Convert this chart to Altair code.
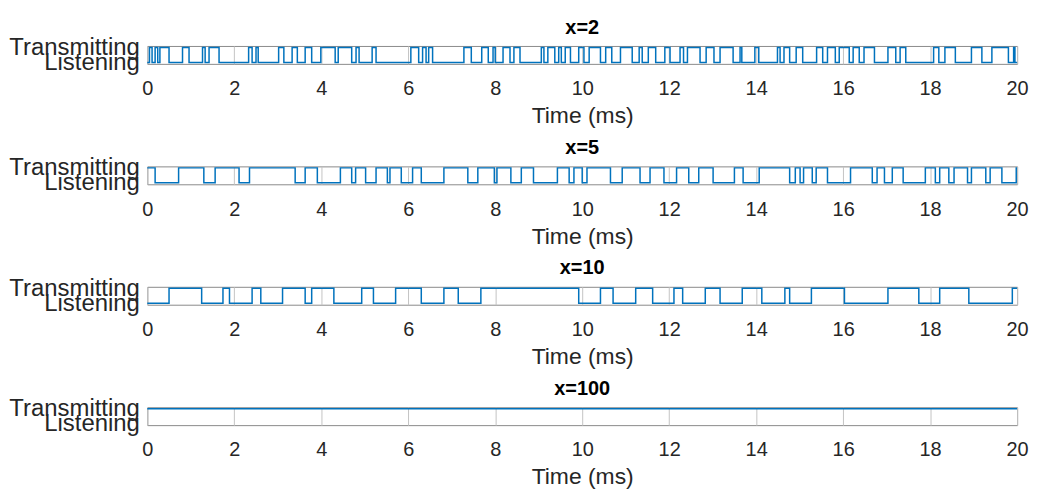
import altair as alt
import pandas as pd

T_END = 20
panel_titles = ["x=2", "x=5", "x=10", "x=100"]
initial_states = [0, 1, 0, 1]  # 0 = Listening, 1 = Transmitting

# transition times (ms) for each panel; state toggles at each time
trans_x2 = [0.05, 0.11, 0.18, 0.24, 0.29, 0.50, 0.81, 0.96, 1.27, 1.33, 1.42, 1.65,
            2.33, 2.41, 2.50, 2.55, 3.02, 3.14, 3.33, 3.45, 3.63, 3.78, 3.99, 4.32,
            4.39, 4.70, 4.80, 4.87, 5.17, 5.26, 6.06, 6.24, 6.33, 6.41, 6.47, 6.56,
            7.28, 7.45, 7.69, 7.84, 7.95, 8.00, 8.18, 8.34, 8.43, 8.57, 9.06, 9.12,
            9.21, 9.37, 9.46, 9.52, 9.61, 9.73, 9.92, 10.04, 10.16, 10.42, 10.54, 10.68,
            10.88, 11.15, 11.31, 11.38, 11.52, 11.69, 11.90, 12.02, 12.25, 12.33,
            12.42, 12.71, 12.85, 13.03, 13.17, 13.47, 13.63, 13.67, 13.97, 14.06,
            14.49, 14.55, 14.64, 14.77, 14.92, 15.07, 15.39, 15.53, 15.64, 15.82,
            15.91, 16.14, 16.23, 16.37, 16.48, 16.72, 17.03, 17.21, 17.31, 17.44,
            18.08, 18.20, 18.34, 18.58, 18.95, 19.19, 19.42, 19.80, 19.92, 19.95]
trans_x5 = [0.18, 0.72, 1.30, 1.56, 2.11, 2.35, 3.40, 3.63, 3.91, 4.44, 4.70, 4.79,
            5.02, 5.26, 5.52, 5.58, 5.84, 6.10, 6.30, 6.82, 7.37, 7.60, 7.98, 8.04,
            8.36, 8.60, 8.88, 9.43, 9.70, 9.81, 10.00, 10.11, 10.65, 10.92, 11.33,
            11.56, 11.88, 12.17, 12.45, 12.68, 13.01, 13.50, 13.70, 14.07, 14.77,
            14.90, 15.01, 15.09, 15.29, 15.38, 15.64, 16.17, 16.67, 16.78, 16.95,
            17.13, 17.38, 17.89, 18.12, 18.22, 18.43, 18.55, 18.86, 18.95, 19.28,
            19.38, 19.65, 19.98]
trans_x10 = [0.50, 1.25, 1.74, 1.89, 2.41, 2.61, 3.11, 3.63, 3.78, 4.29, 4.93, 5.20,
             5.71, 6.30, 6.82, 7.15, 7.67, 9.92, 10.42, 10.71, 11.23, 11.62, 12.11,
             12.31, 12.83, 13.17, 13.68, 14.13, 14.66, 14.77, 15.27, 16.03, 17.03,
             17.74, 18.22, 18.89, 19.89]
trans_x100 = []

all_trans = [trans_x2, trans_x5, trans_x10, trans_x100]

FONT = "Liberation Sans"
TXT = "#262626"


def build_df(trans, init):
    times, states = [0.0], [init]
    s = init
    for t in trans:
        s = 1 - s
        times.append(t)
        states.append(s)
    times.append(T_END)
    states.append(s)
    return pd.DataFrame({"t": times, "s": states})


def panel(df, title):
    return alt.Chart(df).mark_line(
        interpolate="step-after", color="#0072BD", strokeWidth=1.5
    ).encode(
        x=alt.X("t:Q",
                scale=alt.Scale(domain=[0, T_END], nice=False, zero=False),
                axis=alt.Axis(values=list(range(0, 21, 2)), title="Time (ms)",
                              labelFlush=False, ticks=False, domain=False,
                              labelPadding=15, titlePadding=6,
                              grid=True, gridColor="#c4c4c4", gridWidth=1,
                              labelFontSize=20, titleFontSize=23,
                              titleFontWeight="normal")),
        y=alt.Y("s:Q",
                scale=alt.Scale(domain=[-0.1, 1.1], nice=False, zero=False),
                axis=alt.Axis(values=[0, 1], title=None, grid=False, ticks=False,
                              domain=False, labelOverlap=False, labelFlush=False,
                              labelPadding=8, labelFontSize=24, labelBaseline="middle",
                              labelExpr="datum.value == 1 ? 'Transmitting' : 'Listening'")),
    ).properties(
        width=874, height=18,
        title=alt.TitleParams(title, fontSize=20, fontWeight="bold", font=FONT,
                              color="#000000", offset=-2),
    )


charts = [panel(build_df(tr, st), ti)
          for tr, st, ti in zip(all_trans, initial_states, panel_titles)]

chart = alt.vconcat(*charts, spacing=9).properties(
    padding={"left": 8, "top": 16, "right": 10, "bottom": 0},
    background="white",
).configure_view(
    stroke="#8a8a8a", strokeWidth=1
).configure_axis(
    labelFont=FONT, titleFont=FONT, labelColor=TXT, titleColor=TXT
).configure_title(anchor="middle")

chart.save("out.html", embed_options={"renderer": "svg", "actions": False})
